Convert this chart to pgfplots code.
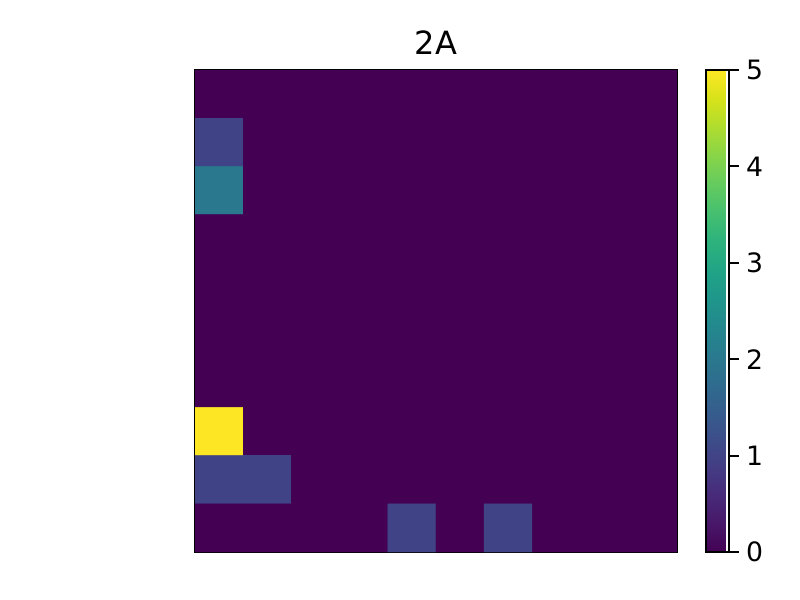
\documentclass[border=0pt]{standalone}
\usepackage{fontspec}
\setmainfont{DejaVu Sans}
\usepackage{pgfplots}
\pgfplotsset{compat=1.18}
\definecolor{vir0}{HTML}{440154}
\begin{document}
\begin{tikzpicture}
\useasboundingbox (-146.25pt,-36pt) rectangle (453.75pt,414pt);
\begin{axis}[
    at={(0,0)}, anchor=south west,
    scale only axis,
    width=361.5pt, height=361.5pt,
    xmin=-0.5, xmax=9.5, ymin=-0.5, ymax=9.5,
    y dir=reverse,
    xtick=\empty, ytick=\empty,
    axis line style={line width=1.5pt},
    axis background/.style={fill=vir0},
    colormap/viridis,
    point meta min=0, point meta max=5,
    title={2A},
    title style={font=\fontsize{24}{28}\selectfont, yshift=2pt},
    colorbar,
    colorbar style={
        at={(parent axis.south east)}, anchor=south west, xshift=13.5pt,
        width=17.25pt, height=361.5pt,
        ytick={0,1,2,3,4,5},
        yticklabel style={font=\fontsize{20}{24}\selectfont, xshift=2pt},
        /pgf/number format/assume math mode=true,
        axis line style={line width=1.5pt},
        major tick length=7pt,
        tick style={line width=1.5pt, black},
        ytick pos=right, tick align=outside,
    },
]
\addplot[matrix plot*, mesh/cols=10, point meta=explicit,
    shader=faceted, faceted color=mapped color, line width=0.3pt] table[meta=c] {
x y c
0 0 0
1 0 0
2 0 0
3 0 0
4 0 0
5 0 0
6 0 0
7 0 0
8 0 0
9 0 0
0 1 1
1 1 0
2 1 0
3 1 0
4 1 0
5 1 0
6 1 0
7 1 0
8 1 0
9 1 0
0 2 2
1 2 0
2 2 0
3 2 0
4 2 0
5 2 0
6 2 0
7 2 0
8 2 0
9 2 0
0 3 0
1 3 0
2 3 0
3 3 0
4 3 0
5 3 0
6 3 0
7 3 0
8 3 0
9 3 0
0 4 0
1 4 0
2 4 0
3 4 0
4 4 0
5 4 0
6 4 0
7 4 0
8 4 0
9 4 0
0 5 0
1 5 0
2 5 0
3 5 0
4 5 0
5 5 0
6 5 0
7 5 0
8 5 0
9 5 0
0 6 0
1 6 0
2 6 0
3 6 0
4 6 0
5 6 0
6 6 0
7 6 0
8 6 0
9 6 0
0 7 5
1 7 0
2 7 0
3 7 0
4 7 0
5 7 0
6 7 0
7 7 0
8 7 0
9 7 0
0 8 1
1 8 1
2 8 0
3 8 0
4 8 0
5 8 0
6 8 0
7 8 0
8 8 0
9 8 0
0 9 0
1 9 0
2 9 0
3 9 0
4 9 1
5 9 0
6 9 1
7 9 0
8 9 0
9 9 0
};
\end{axis}
\end{tikzpicture}
\end{document}
